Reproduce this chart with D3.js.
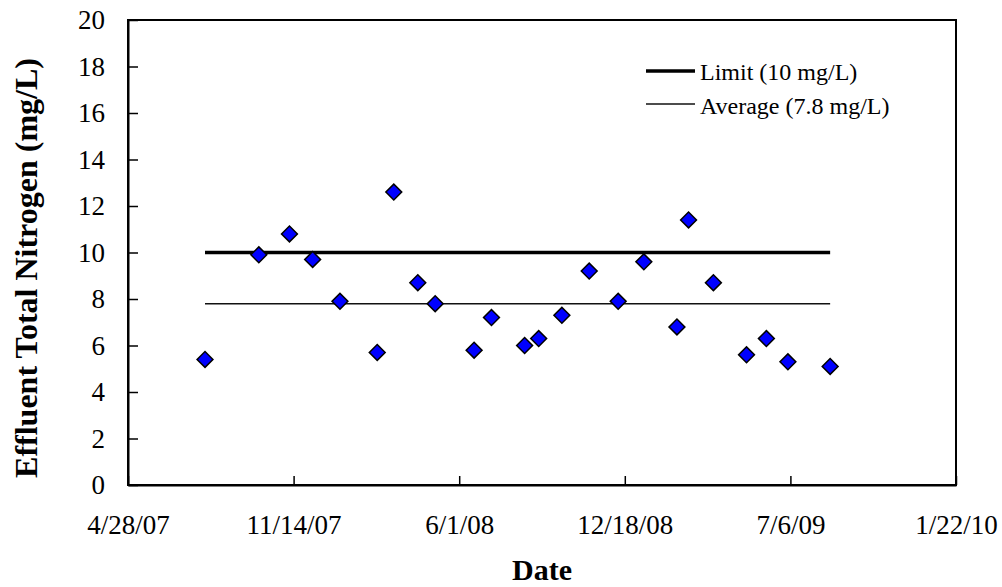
<!DOCTYPE html>
<html>
<head>
<meta charset="utf-8">
<script src="https://cdn.jsdelivr.net/npm/d3@7"></script>
<style>
  body { margin: 0; background: #fff; }
  svg text { font-family: 'Liberation Serif', 'Times New Roman', serif; fill: #000; }
</style>
</head>
<body>
<div id="chart"></div>
<script>
// sample dates and effluent TN values (mg/L)
const sampleDates = [
  '2007-07-30', '2007-10-03', '2007-11-09', '2007-12-07', '2008-01-09', '2008-02-23',
  '2008-03-14', '2008-04-12', '2008-05-03', '2008-06-19', '2008-07-10', '2008-08-19',
  '2008-09-05', '2008-10-03', '2008-11-05', '2008-12-10', '2009-01-10', '2009-02-19',
  '2009-03-05', '2009-04-04', '2009-05-14', '2009-06-07', '2009-07-03', '2009-08-23'
];
const tnValues = [
  5.4, 9.9, 10.8, 9.7, 7.9, 5.7,
  12.6, 8.7, 7.8, 5.8, 7.2, 6.0,
  6.3, 7.3, 9.2, 7.9, 9.6, 6.8,
  11.4, 8.7, 5.6, 6.3, 5.3, 5.1
];
const limitValue = 10;
const averageValue = 7.8;
const xTickLabels = ['4/28/07', '11/14/07', '6/1/08', '12/18/08', '7/6/09', '1/22/10'];
const yTicks = [0, 2, 4, 6, 8, 10, 12, 14, 16, 18, 20];

const width = 1002, height = 587,
      margin = {top: 20, right: 46, bottom: 102, left: 128};

const parseIso = d3.utcParse('%Y-%m-%d');
const parseTick = d3.utcParse('%m/%d/%y');
const tickDates = xTickLabels.map(parseTick);
const points = sampleDates.map((d, i) => ({date: parseIso(d), value: tnValues[i]}));

const x = d3.scaleUtc()
    .domain([tickDates[0], tickDates[tickDates.length - 1]])
    .range([margin.left, width - margin.right]);

const y = d3.scaleLinear()
    .domain([0, 20])
    .range([height - margin.bottom, margin.top]);

const svg = d3.select('#chart').append('svg')
    .attr('width', width)
    .attr('height', height);

// plot frame
svg.append('rect')
   .attr('x', margin.left)
   .attr('y', margin.top)
   .attr('width', width - margin.left - margin.right)
   .attr('height', height - margin.top - margin.bottom)
   .attr('fill', 'none')
   .attr('stroke', '#000')
   .attr('stroke-width', 2);

// axes, ticks pointing inward
const xAxis = svg.append('g')
   .attr('transform', `translate(0,${height - margin.bottom})`)
   .call(d3.axisBottom(x)
          .tickValues(tickDates)
          .tickSizeInner(-9)
          .tickSizeOuter(0)
          .tickPadding(30)
          .tickFormat((d, i) => xTickLabels[i]))
   .attr('font-family', null)
   .attr('font-size', 27);
xAxis.select('.domain').attr('stroke-width', 2);
xAxis.selectAll('.tick line').attr('stroke-width', 1.5);

const yAxis = svg.append('g')
   .attr('transform', `translate(${margin.left},0)`)
   .call(d3.axisLeft(y)
          .tickValues(yTicks)
          .tickSizeInner(-10)
          .tickSizeOuter(0)
          .tickPadding(23))
   .attr('font-family', null)
   .attr('font-size', 27);
yAxis.select('.domain').attr('stroke-width', 2);
yAxis.selectAll('.tick line').attr('stroke-width', 1.5);

// limit and average lines span the sampling period
const first = points[0].date, last = points[points.length - 1].date;

svg.append('line')
   .attr('x1', x(first)).attr('x2', x(last))
   .attr('y1', y(limitValue)).attr('y2', y(limitValue))
   .attr('stroke', '#000')
   .attr('stroke-width', 3.3);

svg.append('line')
   .attr('x1', x(first)).attr('x2', x(last))
   .attr('y1', y(averageValue)).attr('y2', y(averageValue))
   .attr('stroke', '#111')
   .attr('stroke-width', 1.5);

// data points as diamonds
const diamond = d3.symbol(d3.symbolSquare, 126);
svg.append('g')
   .selectAll('path')
   .data(points)
   .join('path')
     .attr('d', diamond)
     .attr('transform', d => `translate(${x(d.date)},${y(d.value)}) rotate(45)`)
     .attr('fill', '#0000ff')
     .attr('stroke', '#000')
     .attr('stroke-width', 1.5);

// legend
const legend = svg.append('g').attr('transform', 'translate(646,0)');
legend.append('line')
   .attr('x1', 0).attr('x2', 49)
   .attr('y1', 71).attr('y2', 71)
   .attr('stroke', '#000').attr('stroke-width', 3.3);
legend.append('text')
   .attr('x', 54).attr('y', 80)
   .attr('font-size', 24)
   .text('Limit (10 mg/L)');
legend.append('line')
   .attr('x1', 0).attr('x2', 49)
   .attr('y1', 104).attr('y2', 104)
   .attr('stroke', '#111').attr('stroke-width', 1.5);
legend.append('text')
   .attr('x', 54).attr('y', 114)
   .attr('font-size', 24)
   .text('Average (7.8 mg/L)');

// axis titles
svg.append('text')
   .attr('text-anchor', 'middle')
   .attr('x', (margin.left + width - margin.right) / 2)
   .attr('y', 580)
   .attr('font-size', 30)
   .attr('font-weight', 'bold')
   .text('Date');

svg.append('text')
   .attr('text-anchor', 'middle')
   .attr('transform', 'rotate(-90)')
   .attr('x', -268)
   .attr('y', 37)
   .attr('font-size', 32)
   .attr('font-weight', 'bold')
   .text('Effluent Total Nitrogen (mg/L)');
</script>
</body>
</html>
